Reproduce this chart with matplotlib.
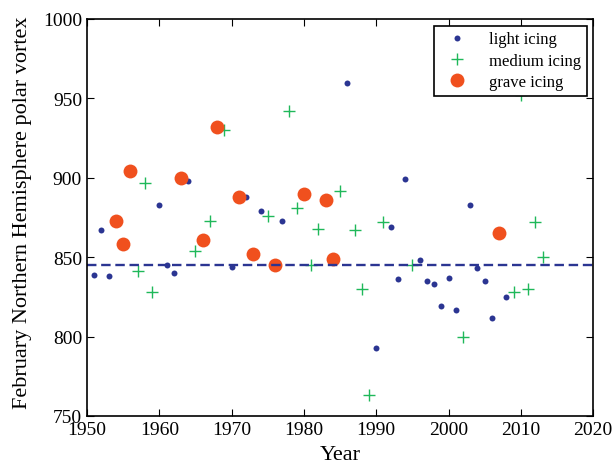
import matplotlib
matplotlib.use("Agg")
import matplotlib.pyplot as plt

# light icing
light_years = [1951, 1952, 1953, 1960, 1961, 1962, 1964, 1970, 1972, 1974, 1977,
               1986, 1990, 1992, 1993, 1994, 1996, 1997, 1998, 1999, 2000, 2001,
               2003, 2004, 2005, 2006, 2008]
light_vals = [839, 867, 838, 883, 845, 840, 898, 844, 888, 879, 873,
              960, 793, 869, 836, 899, 848, 835, 833, 819, 837, 817,
              883, 843, 835, 812, 825]

# medium icing
medium_years = [1957, 1958, 1959, 1965, 1967, 1969, 1975, 1978, 1979, 1981, 1982,
                1985, 1987, 1988, 1989, 1991, 1995, 2002, 2009, 2010, 2011, 2012, 2013]
medium_vals = [841, 897, 828, 854, 873, 930, 876, 942, 881, 845, 868,
               892, 867, 830, 763, 872, 845, 800, 828, 952, 830, 872, 850]

# grave icing
grave_years = [1954, 1955, 1956, 1963, 1966, 1968, 1971, 1973, 1976, 1980, 1983, 1984, 2007]
grave_vals = [873, 858, 904, 900, 861, 932, 888, 852, 845, 890, 886, 849, 865]

mean_val = 845

plt.rcParams['font.family'] = ['Liberation Serif', 'DejaVu Serif']

fig = plt.figure(figsize=(6.16, 4.64), dpi=100)
ax = fig.add_axes([0.1412, 0.1013, 0.8218, 0.8556])

ax.plot(light_years, light_vals, 'o', color='#2b3592', markersize=4.3,
        markeredgewidth=0, label='light icing')
ax.plot(medium_years, medium_vals, '+', color='#1fb85a', markersize=8,
        markeredgewidth=1.0, label='medium icing')
ax.plot(grave_years, grave_vals, 'o', color='#f0501e', markersize=10,
        markeredgewidth=0, label='grave icing')
ax.plot([1950, 2020], [mean_val, mean_val], '--', color='#2b3592',
        linewidth=1.7, dashes=(4, 2))

ax.set_xlim(1950, 2020)
ax.set_ylim(750, 1000)
ax.set_xticks(range(1950, 2021, 10))
ax.set_yticks(range(750, 1001, 50))
ax.tick_params(direction='in', top=True, right=True, labelsize=14, length=5)
ax.set_xlabel('Year', fontsize=16, labelpad=5)
ax.set_ylabel('February Northern Hemisphere polar vortex', fontsize=16)
ax.yaxis.set_label_coords(-0.108, 0.515)
for s in ax.spines.values():
    s.set_linewidth(1.2)

leg = ax.legend(loc='upper right', fontsize=12, fancybox=False, framealpha=1,
                edgecolor='black', borderaxespad=0.4, handletextpad=0.9,
                labelspacing=0.32, borderpad=0.35)
leg.get_frame().set_linewidth(1.2)

fig.savefig('out.png', dpi=100)
